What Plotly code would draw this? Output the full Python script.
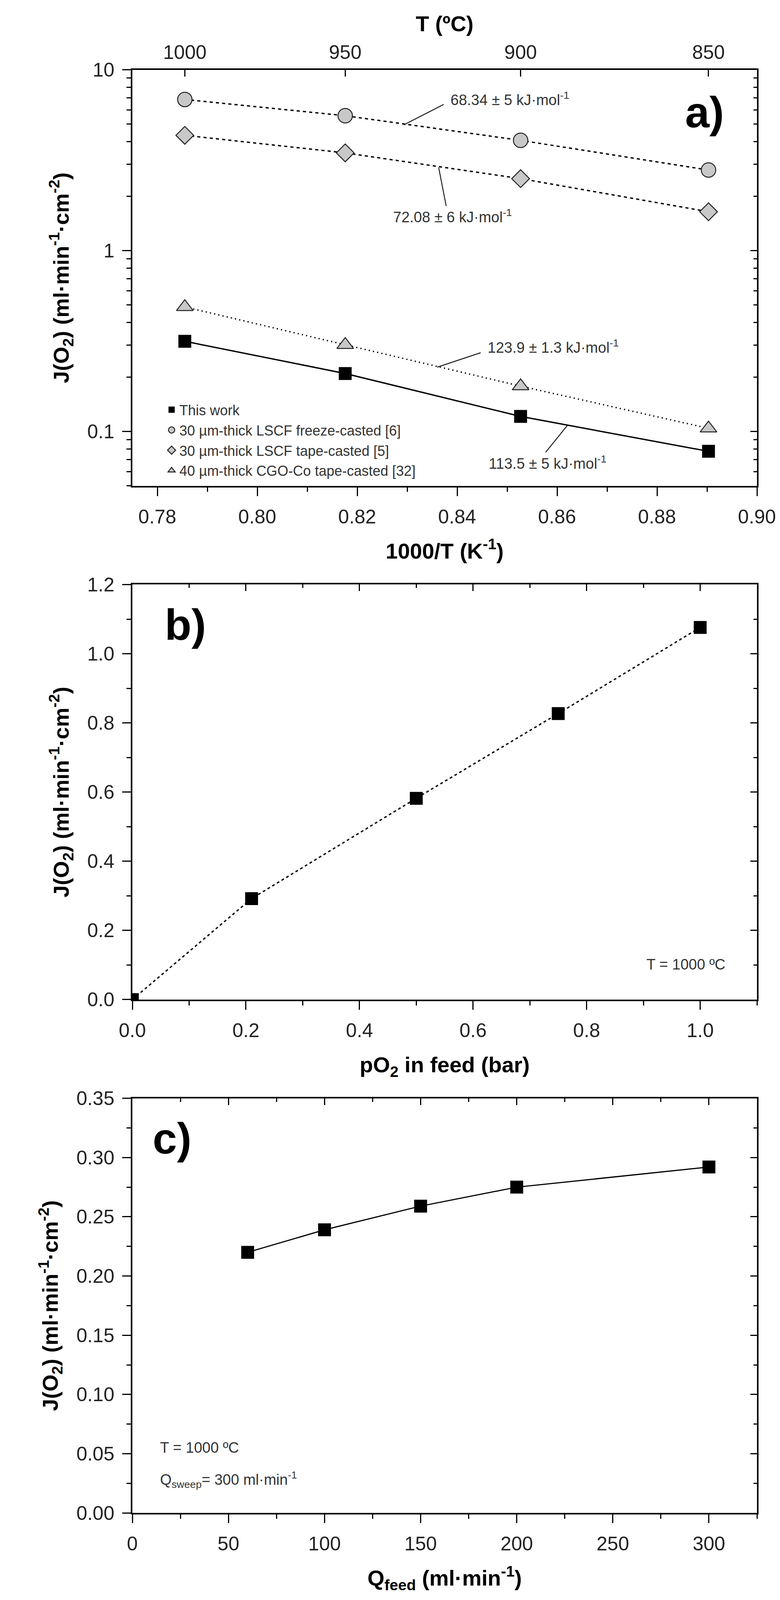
import math
import plotly.graph_objects as go

# panel a) Arrhenius plot
T_C = [1000, 950, 900, 850]
inv_T = [0.7855, 0.8176, 0.8527, 0.8903]
j_this_work = [0.315, 0.209, 0.121, 0.0776]
j_lscf_freeze = [6.85, 5.57, 4.07, 2.79]
j_lscf_tape = [4.34, 3.47, 2.50, 1.64]
j_cgo_co = [0.488, 0.301, 0.178, 0.104]
series_names = ["This work",
                "30 µm-thick LSCF freeze-casted [6]",
                "30 µm-thick LSCF tape-casted [5]",
                "40 µm-thick CGO-Co tape-casted [32]"]
ea_labels = ["68.34 ± 5 kJ·mol<sup>-1</sup>",
             "72.08 ± 6 kJ·mol<sup>-1</sup>",
             "123.9 ± 1.3 kJ·mol<sup>-1</sup>",
             "113.5 ± 5 kJ·mol<sup>-1</sup>"]

# panel b) oxygen partial pressure in feed
pO2_feed = [0.0, 0.21, 0.5, 0.75, 1.0]
j_pO2 = [0.0, 0.292, 0.582, 0.827, 1.076]

# panel c) feed flow rate
q_feed = [60, 100, 150, 200, 300]
j_qfeed = [0.220, 0.239, 0.259, 0.275, 0.292]

TICK_FONT = "Liberation Sans Narrow, Liberation Sans, Arial"
TITLE_FONT = "Liberation Sans, Arial"
J_TITLE = "J(O<sub>2</sub>) (ml·min<sup>-1</sup>·cm<sup>-2</sup>)"
GRAY = "#c8c8c8"

# the photographed page is about 4100 px tall, so the layout (measured on a
# 1998x4520 sheet) is kept in fractions and squeezed into H
W, H, H_REF = 1998, 4080, 4520
XD = [331 / W, 1931 / W]
DOM = {"a": [1 - 1369 / H_REF, 1 - 189 / H_REF],
       "b": [1 - 2826 / H_REF, 1 - 1649 / H_REF],
       "c": [1 - 4282 / H_REF, 1 - 3106 / H_REF]}


def axis(inside=False, labels=True, minor_dtick=None, **kw):
    d = dict(showline=True, linecolor="black", linewidth=4, mirror=False,
             showgrid=False, zeroline=False, automargin=False,
             ticks="inside" if inside else "outside",
             ticklen=17 if inside else 22, tickwidth=3, tickcolor="black",
             showticklabels=labels, ticklabelstandoff=10,
             tickfont=dict(family=TICK_FONT, size=50, color="#222"))
    if minor_dtick is not None:
        d["minor"] = dict(dtick=minor_dtick, ticks="inside" if inside else "outside",
                          ticklen=9 if inside else 11, tickwidth=3, tickcolor="black",
                          showgrid=False)
    d.update(kw)
    return d


def title(text, standoff):
    return dict(text=text, standoff=standoff,
                font=dict(family=TITLE_FONT, size=56, color="black", weight="bold"))


def ghost(x, y, xa, ya):
    # invisible trace so that the mirrored top/right axes get drawn
    return go.Scatter(x=x, y=y, xaxis=xa, yaxis=ya, mode="markers", showlegend=False,
                      hoverinfo="skip", marker=dict(size=1, opacity=0))


fig = go.Figure()

# ---- panel a
styles = [
    dict(symbol="square", size=33, color="black", line=dict(width=0), dash="solid"),
    dict(symbol="circle", size=37, color=GRAY, line=dict(width=2.5, color="#222"), dash="8px,8px"),
    dict(symbol="diamond", size=35, color=GRAY, line=dict(width=2.5, color="#222"), dash="8px,8px"),
    dict(symbol="triangle-up", size=37, color=GRAY, line=dict(width=2.5, color="#222"), dash="3px,8px"),
]
for i, (ys, name, st) in enumerate(zip([j_this_work, j_lscf_freeze, j_lscf_tape, j_cgo_co],
                                       series_names, styles)):
    fig.add_trace(go.Scatter(
        x=inv_T, y=ys, mode="lines", showlegend=False, hoverinfo="skip",
        line=dict(color="black", width=3.5, dash=st["dash"]), xaxis="x", yaxis="y"))
    fig.add_trace(go.Scatter(
        x=inv_T, y=ys, name=name, mode="markers", legendgroup=str(i),
        marker=dict(symbol=st["symbol"], size=st["size"], color=st["color"], line=st["line"]),
        xaxis="x", yaxis="y"))
fig.add_trace(ghost(inv_T, j_this_work, "x2", "y2"))

# ---- panel b
fig.add_trace(go.Scatter(
    x=pO2_feed, y=j_pO2, mode="lines+markers", showlegend=False,
    line=dict(color="black", width=3.5, dash="7px,7px"),
    marker=dict(symbol="square", size=33, color="black"),
    xaxis="x3", yaxis="y3"))
fig.add_trace(ghost(pO2_feed, j_pO2, "x4", "y4"))

# ---- panel c
fig.add_trace(go.Scatter(
    x=q_feed, y=j_qfeed, mode="lines+markers", showlegend=False,
    line=dict(color="black", width=3),
    marker=dict(symbol="square", size=33, color="black"),
    xaxis="x5", yaxis="y5"))
fig.add_trace(ghost(q_feed, j_qfeed, "x6", "y6"))

ya_range = [math.log10(0.05), 1]
xa_range = [0.775, 0.90]
xb_range, yb_range = [0, 1.1], [0, 1.2]
xc_range, yc_range = [0, 325], [0, 0.35]

fig.update_layout(
    width=W, height=H, margin=dict(l=0, r=0, t=0, b=0, autoexpand=False),
    paper_bgcolor="white", plot_bgcolor="white",
    showlegend=True,
    legend=dict(x=0.206, y=1 - 1120 / H_REF, xanchor="left", yanchor="top",
                bgcolor="rgba(0,0,0,0)", tracegroupgap=2, traceorder="grouped",
                font=dict(family=TICK_FONT, size=36, color="#333")),
    # panel a
    xaxis=axis(domain=XD, anchor="y", range=xa_range, dtick=0.02, tick0=0.78,
               tickformat=".2f", minor_dtick=0.01,
               title=title("1000/T (K<sup>-1</sup>)", 42)),
    yaxis=axis(domain=DOM["a"], anchor="x", type="log", range=ya_range, dtick=1,
               minor_dtick="D1", title=title(J_TITLE, 30)),
    xaxis2=axis(inside=True, overlaying="x", anchor="y", side="top", range=xa_range,
                tickmode="array", tickvals=inv_T, ticktext=[str(t) for t in T_C],
                ticklabelstandoff=4, title=title("T (ºC)", 8)),
    yaxis2=axis(inside=True, labels=False, overlaying="y", anchor="x", side="right",
                type="log", range=ya_range, dtick=1, minor_dtick="D1"),
    # panel b
    xaxis3=axis(domain=XD, anchor="y3", range=xb_range, dtick=0.2, tickformat=".1f",
                minor_dtick=0.1, title=title("pO<sub>2</sub> in feed (bar)", 42)),
    yaxis3=axis(domain=DOM["b"], anchor="x3", range=yb_range, dtick=0.2, tickformat=".1f",
                minor_dtick=0.1, title=title(J_TITLE, 30)),
    xaxis4=axis(inside=True, labels=False, overlaying="x3", anchor="y3", side="top",
                range=xb_range, dtick=0.2, minor_dtick=0.1),
    yaxis4=axis(inside=True, labels=False, overlaying="y3", anchor="x3", side="right",
                range=yb_range, dtick=0.2, minor_dtick=0.1),
    # panel c
    xaxis5=axis(domain=XD, anchor="y5", range=xc_range, dtick=50, minor_dtick=25,
                title=title("Q<sub>feed</sub> (ml·min<sup>-1</sup>)", 42)),
    yaxis5=axis(domain=DOM["c"], anchor="x5", range=yc_range, dtick=0.05, tickformat=".2f",
                minor_dtick=0.025, title=title(J_TITLE, 30)),
    xaxis6=axis(inside=True, labels=False, overlaying="x5", anchor="y5", side="top",
                range=xc_range, dtick=50, minor_dtick=25),
    yaxis6=axis(inside=True, labels=False, overlaying="y5", anchor="x5", side="right",
                range=yc_range, dtick=0.05, minor_dtick=0.025),
)

NOTE = dict(family=TICK_FONT, size=38, color="#333")
PANEL = dict(family=TITLE_FONT, size=112, color="black", weight="bold")

# activation energy labels (annotation y in log10) and their leader lines (shape y in data units)
ea_text_pos = [(0.8385, 0.839), (0.8270, 0.191), (0.8459, -0.531), (0.8462, -1.172)]
ea_leaders = [((0.8373, 6.43), (0.8293, 4.95)),
              ((0.8378, 1.766), (0.8363, 2.884)),
              ((0.8447, 0.2723), (0.8360, 0.2265)),
              ((0.8577, 0.0766), (0.8622, 0.1091))]
for label, (tx, ty), ((x0, y0), (x1, y1)) in zip(ea_labels, ea_text_pos, ea_leaders):
    fig.add_annotation(x=tx, y=ty, xref="x", yref="y", text=label, showarrow=False,
                       xanchor="left", yanchor="middle", font=NOTE)
    fig.add_shape(type="line", x0=x0, y0=y0, x1=x1, y1=y1, xref="x", yref="y",
                  line=dict(color="#222", width=2.5))

fig.add_annotation(x=0.8855, y=0.764, xref="x", yref="y", text="a)", showarrow=False,
                   xanchor="left", yanchor="middle", font=PANEL)
fig.add_annotation(x=0.056, y=1.084, xref="x3", yref="y3", text="b)", showarrow=False,
                   xanchor="left", yanchor="middle", font=PANEL)
fig.add_annotation(x=10.2, y=0.316, xref="x5", yref="y5", text="c)", showarrow=False,
                   xanchor="left", yanchor="middle", font=PANEL)

fig.add_annotation(x=1.046, y=0.101, xref="x3", yref="y3", text="T = 1000 ºC",
                   showarrow=False, xanchor="right", yanchor="middle", font=NOTE)
fig.add_annotation(x=14, y=0.055, xref="x5", yref="y5", text="T = 1000 ºC",
                   showarrow=False, xanchor="left", yanchor="middle", font=NOTE)
fig.add_annotation(x=14, y=0.028, xref="x5", yref="y5",
                   text="Q<sub>sweep</sub>= 300 ml·min<sup>-1</sup>",
                   showarrow=False, xanchor="left", yanchor="middle", font=NOTE)

fig.write_html("out.html")
